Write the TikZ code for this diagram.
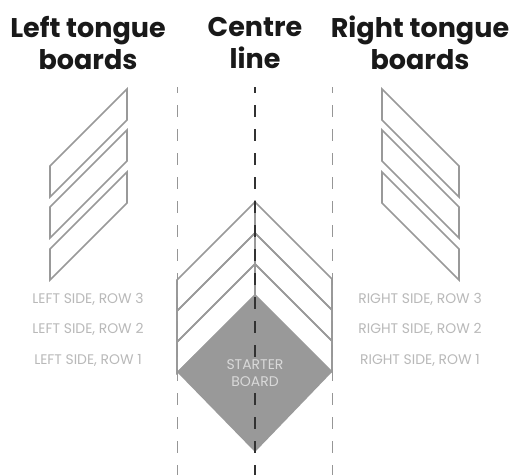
\documentclass[tikz,border=0pt]{standalone}
\usepackage{fontspec}
\setmainfont{Poppins}
\usetikzlibrary{calc}
\definecolor{boardgray} {RGB}{153,153,153}
\definecolor{guidegray} {RGB}{150,150,150}
\definecolor{centredark}{RGB}{ 50, 50, 50}
\definecolor{labelgray} {RGB}{185,185,185}
\definecolor{titleblack}{RGB}{ 25, 25, 25}
\tikzset{
  %% Outlined tongue board
  board/.style={draw=boardgray, line width=1.6pt, line join=miter},
  %% Dashed vertical guides
  sideguide/.style={
    draw=guidegray, line width=0.9pt,
    dash pattern=on 12pt off 12pt, dash phase=6pt
  },
  centreguide/.style={
    draw=centredark, line width=1.5pt,
    dash pattern=on 12pt off 12pt, dash phase=6pt
  },
  paneltitle/.style={
    font=\fontsize{27}{32}\selectfont\bfseries, text=titleblack,
    align=center
  },
  rowlabel/.style={font=\fontsize{13.9}{15}\selectfont, text=labelgray},
  starterlabel/.style={
    font=\fontsize{14}{17}\selectfont, text=white!85!black,
    fill=boardgray, align=center, inner xsep=1pt, inner ysep=1pt
  },
}

\begin{document}
\begin{tikzpicture}[x=1pt, y=-1pt]

  %% ── Layout constants ──────────────────────────────────────────────────
  \def\LX{177}    % left guide
  \def\CX{255}    % centre line
  \def\RX{332}    % right guide
  \def\BH{31}     % board height

  \useasboundingbox[fill=white] (0,0) rectangle (510,475);

  %% ══════════════════════════════════════════════════════════════════════
  %%  TITLES
  %% ══════════════════════════════════════════════════════════════════════
  \node[paneltitle] (lefttitle)   at (88,43)  {Left tongue\\boards};
  \node[paneltitle] (centretitle) at (255,43) {Centre\\line};
  \node[paneltitle] (righttitle)  at (420,43) {Right tongue\\boards};

  %% ══════════════════════════════════════════════════════════════════════
  %%  LOOSE BOARDS
  %% ══════════════════════════════════════════════════════════════════════
  \foreach \y in {89,130,172}{
    \draw[board] (127,\y) -- (127,\y+\BH) -- (50,\y+\BH+77) -- (50,\y+77) -- cycle;
    \draw[board] (382,\y) -- (382,\y+\BH) -- (459,\y+\BH+77) -- (459,\y+77) -- cycle;
  }

  %% Row labels
  \foreach \n/\y in {3/299, 2/329, 1/360}{
    \node[rowlabel] (leftrow\n)  at (88,\y)  {LEFT SIDE, ROW \n};
    \node[rowlabel] (rightrow\n) at (420,\y) {RIGHT SIDE, ROW \n};
  }

  %% ══════════════════════════════════════════════════════════════════════
  %%  HERRINGBONE
  %% ══════════════════════════════════════════════════════════════════════
  \foreach \y in {202,233,264}{
    \draw[board] (\CX,\y) -- (\CX,\y+\BH) -- (\LX,\y+\BH+78) -- (\LX,\y+78) -- cycle;
    \draw[board] (\CX,\y) -- (\CX,\y+\BH) -- (\RX,\y+\BH+77) -- (\RX,\y+77) -- cycle;
  }

  %% Starter board
  \fill[boardgray] (\CX,295) -- (\RX,372) -- (\CX,452) -- (\LX,372) -- cycle;

  %% Guides
  \draw[sideguide]   (\LX,87) -- (\LX,475);
  \draw[sideguide]   (\RX,87) -- (\RX,475);
  \draw[centreguide] (\CX,87) -- (\CX,475);

  \node[starterlabel] (starter) at (\CX,373.5) {STARTER\\BOARD};

\end{tikzpicture}
\end{document}
